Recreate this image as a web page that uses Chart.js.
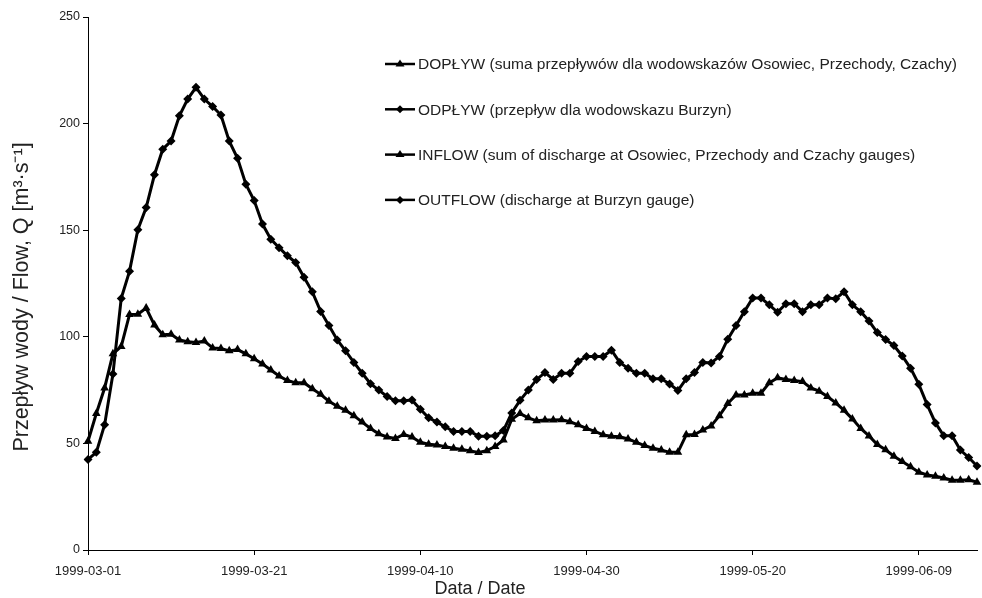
<!DOCTYPE html>
<html>
<head>
<meta charset="utf-8">
<title>Dopływ / odpływ 1999</title>
<script src="https://cdn.jsdelivr.net/npm/chart.js@4.4.0/dist/chart.umd.min.js"></script>
<style>
  html, body { margin: 0; padding: 0; background: #fff; }
  #wrap { width: 982px; height: 598px; }
</style>
</head>
<body>
<div id="wrap"><canvas id="flowChart" width="982" height="598"></canvas></div>
<script>
// daily series, 1999-03-01 .. 1999-06-16
const startDay = '1999-03-01';
const dayCount = 108;
const tickLabels = ['1999-03-01', '1999-03-21', '1999-04-10', '1999-04-30', '1999-05-20', '1999-06-09'];
const yTicks = [0, 50, 100, 150, 200, 250];

// inflow (sum Osowiec + Przechody + Czachy)
const inflow = [
  51, 64, 76, 92, 95.5, 110.5, 110.6, 113.5, 105.5, 101,
  101.2, 98.5, 97.7, 97.3, 98, 94.8, 94.5, 93.4, 94, 92,
  89.7, 87.3, 84.4, 81.6, 79.5, 78.4, 78.4, 75.6, 73, 69.8,
  67.4, 65.5, 63, 60, 57, 54.5, 53, 52.3, 54.2, 53,
  50.5, 49.6, 49.3, 48.5, 47.7, 47.2, 46.5, 45.7, 46.6, 48.5,
  51.6, 61.3, 64, 62, 60.6, 61, 61, 61.1, 60.2, 58.7,
  57, 55.6, 54, 53.4, 53.1, 52.1, 50.5, 49, 47.7, 46.9,
  45.8, 45.8, 54, 54.2, 56.3, 58.2, 63, 68.7, 72.7, 72.7,
  73.5, 73.5, 78.4, 80.8, 80, 79.5, 79, 76, 74.5, 72,
  69, 65.5, 61.5, 57, 53.5, 49.5, 47, 44, 41.5, 39,
  36.5, 35.2, 34.6, 33.8, 32.7, 32.7, 33, 31.8
];

// outflow (Burzyn gauge)
const outflow = [
  42.5, 45.8, 58.8, 82.5, 118, 130.8, 150.2, 160.6, 176, 188,
  191.8, 203.7, 211.5, 217, 211.5, 208, 204, 191.8, 183.7, 171.6,
  163.9, 152.9, 145.8, 141.8, 138, 134.8, 127.9, 121.1, 111.9, 105.3,
  98.5, 93.4, 88, 82.9, 78, 75, 72, 70, 70, 70.3,
  66, 62, 60, 57.8, 55.6, 55.6, 55.6, 53.4, 53.4, 53.6,
  56, 64.3, 70.2, 75, 80, 83.2, 80, 82.9, 82.9, 88.4,
  90.8, 90.8, 90.8, 93.7, 88, 85.2, 82.9, 82.9, 80.3, 80.3,
  77.9, 74.8, 80.3, 83.2, 88, 87.7, 90.8, 98.9, 105.3, 111.8,
  118.2, 118.2, 115, 111.5, 115.5, 115.5, 111.8, 115, 115, 118.2,
  117.9, 121.1, 115, 111.8, 107.4, 102, 98.7, 95.9, 91, 85.3,
  77.7, 68.2, 59.6, 53.6, 53.6, 46.9, 43.4, 39.4
];

const legendNames = [
  { text: 'DOPŁYW (suma przepływów dla wodowskazów Osowiec, Przechody, Czachy)', marker: 'triangle' },
  { text: 'ODPŁYW (przepływ dla wodowskazu Burzyn)', marker: 'diamond' },
  { text: 'INFLOW (sum of discharge at Osowiec, Przechody and Czachy gauges)', marker: 'triangle' },
  { text: 'OUTFLOW (discharge at Burzyn gauge)', marker: 'diamond' }
];

const xTitle = 'Data / Date';
const yTitle = 'Przepływ wody / Flow, Q [m³·s⁻¹]';

const dates = [];
const d0 = new Date(startDay + 'T00:00:00Z');
for (let i = 0; i < dayCount; i++) {
  const d = new Date(d0.getTime() + i * 86400000);
  dates.push(d.toISOString().slice(0, 10));
}

const FONT = '"Liberation Sans", Arial, Helvetica, sans-serif';

// legend inside the plot + axis titles placed like the original sheet
const sheetDecor = {
  id: 'sheetDecor',
  afterDraw(chart) {
    const ctx = chart.ctx;
    const x0 = 385, x1 = 415, textX = 418;
    ctx.save();
    legendNames.forEach((item, i) => {
      const y = 64 + i * 45.3;
      ctx.strokeStyle = '#000';
      ctx.lineWidth = 2.5;
      ctx.beginPath();
      ctx.moveTo(x0, y);
      ctx.lineTo(x1, y);
      ctx.stroke();
      ctx.fillStyle = '#000';
      const mx = (x0 + x1) / 2;
      ctx.beginPath();
      if (item.marker === 'triangle') {
        ctx.moveTo(mx, y - 4.5);
        ctx.lineTo(mx + 4.5, y + 2.5);
        ctx.lineTo(mx - 4.5, y + 2.5);
      } else {
        ctx.moveTo(mx, y - 4);
        ctx.lineTo(mx + 4, y);
        ctx.lineTo(mx, y + 4);
        ctx.lineTo(mx - 4, y);
      }
      ctx.closePath();
      ctx.fill();
      ctx.fillStyle = '#222';
      ctx.font = '15.5px ' + FONT;
      ctx.textBaseline = 'middle';
      ctx.textAlign = 'left';
      ctx.fillText(item.text, textX, y + 1);
    });

    ctx.fillStyle = '#222';
    ctx.textAlign = 'center';
    ctx.textBaseline = 'middle';
    ctx.font = '18px ' + FONT;
    ctx.fillText(xTitle, 480, 589);

    ctx.translate(22, 297);
    ctx.rotate(-Math.PI / 2);
    ctx.font = '21.5px ' + FONT;
    ctx.fillText(yTitle, 0, 0);
    ctx.restore();
  }
};

const ctx = document.getElementById('flowChart').getContext('2d');
const flowChart = new Chart(ctx, {
  type: 'line',
  data: {
    labels: dates,
    datasets: [
      {
        label: 'INFLOW',
        data: inflow,
        borderColor: '#000',
        backgroundColor: '#000',
        borderWidth: 3,
        pointStyle: 'triangle',
        pointRadius: 5,
        pointBorderWidth: 0,
        tension: 0,
        fill: false
      },
      {
        label: 'OUTFLOW',
        data: outflow,
        borderColor: '#000',
        backgroundColor: '#000',
        borderWidth: 3,
        pointStyle: 'rectRot',
        pointRadius: 4.5,
        pointBorderWidth: 0,
        tension: 0,
        fill: false
      }
    ]
  },
  options: {
    responsive: false,
    animation: false,
    layout: { padding: { top: 17, right: 2, left: 0, bottom: 0 } },
    plugins: {
      legend: { display: false },
      tooltip: { enabled: false }
    },
    scales: {
      x: {
        type: 'category',
        offset: false,
        border: { color: '#000', width: 1 },
        grid: { display: true, drawOnChartArea: false, drawTicks: true, tickLength: 5, color: '#000' },
        ticks: {
          autoSkip: false,
          maxRotation: 0,
          padding: 9,
          color: '#222',
          font: { family: FONT, size: 13 },
          callback: function (value) {
            const label = this.getLabelForValue(value);
            return tickLabels.includes(label) ? label : null;
          }
        },
        afterFit(scale) { scale.height = 48; }
      },
      y: {
        min: 0,
        max: 250,
        border: { color: '#000', width: 1 },
        grid: { display: true, drawOnChartArea: false, drawTicks: true, tickLength: 5, color: '#000' },
        afterBuildTicks(scale) { scale.ticks = yTicks.map(v => ({ value: v })); },
        ticks: {
          padding: 3,
          color: '#222',
          font: { family: FONT, size: 12.5 }
        },
        afterFit(scale) { scale.width = 88; }
      }
    }
  },
  plugins: [sheetDecor]
});
</script>
</body>
</html>
